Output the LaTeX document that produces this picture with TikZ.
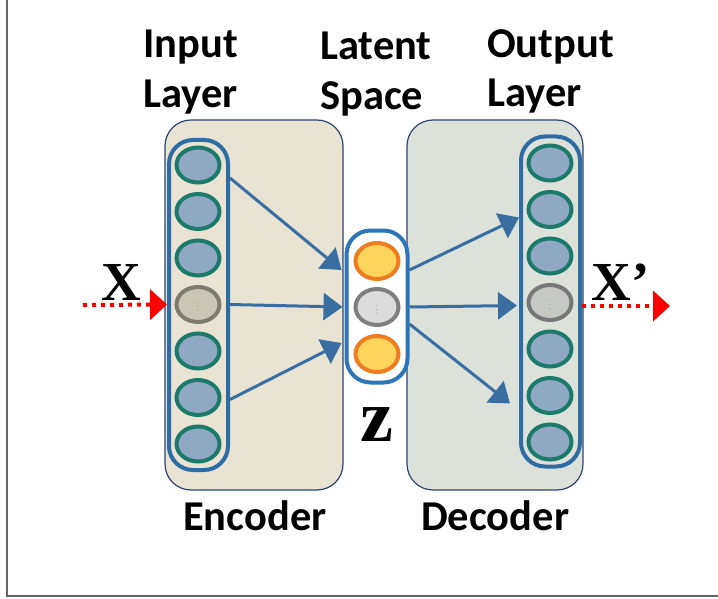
\documentclass[tikz,border=0pt]{standalone}
\usepackage{fontspec}
\usetikzlibrary{arrows.meta,shapes.geometric,calc}
\newfontfamily\calib{Carlito}
\newfontfamily\timesf{Liberation Serif}
\definecolor{encfill}{HTML}{E8E3D3}
\definecolor{decfill}{HTML}{DCE2DA}
\definecolor{boxline}{HTML}{2C4470}
\definecolor{capline}{HTML}{2F6CA3}
\definecolor{latline}{HTML}{2E75B6}
\definecolor{unitfill}{HTML}{8EA9C1}
\definecolor{unitline}{HTML}{1C7A6B}
\definecolor{arrowblue}{HTML}{3A6EA0}
\definecolor{zfill}{HTML}{FFD45C}
\definecolor{zline}{HTML}{EE7D22}
\definecolor{encdotline}{HTML}{7D7A6E}
\definecolor{encdotfill}{HTML}{CBC5B6}
\definecolor{latdotfill}{HTML}{DCDCDC}
\definecolor{decdotline}{HTML}{777777}
\definecolor{decdotfill}{HTML}{C6C8C3}
\definecolor{framegray}{HTML}{666666}

\begin{document}
\begin{tikzpicture}[x=1pt, y=-1pt,
  panel/.style={draw=boxline, line width=1.2pt, rounded corners=26pt, minimum width=#1, minimum height=370pt},
  capsule/.style={draw=capline, line width=4pt, rounded corners=24pt, minimum width=59pt},
  unit/.style={ellipse, draw=unitline, fill=unitfill, line width=4pt, minimum width=43pt, minimum height=35pt, inner sep=0pt},
  dotunit/.style={unit, font=\small, text=black!65},
  latunit/.style={unit, draw=zline, fill=zfill, minimum height=36pt},
  lbl/.style={font=\calib\bfseries\fontsize{42.5}{50}\selectfont, anchor=base west, inner sep=0pt},
  link/.style={draw=arrowblue, line width=3pt, -{Triangle[length=19pt, width=27pt]}},
  signal/.style={draw=red, line width=4pt, dash pattern=on 4pt off 5pt, -{Triangle[length=17pt, width=30pt]}}
]
\useasboundingbox (0,0) rectangle (718,599);
% frame of the figure
\draw[framegray, line width=2pt] (7,0) -- (7,596) -- (718,596);

% Encoder and decoder panels
\node[panel=178pt, fill=encfill] (encoder) at (254,305) {};
\node[panel=176pt, fill=decfill] (decoder) at (495,305) {};

% Layers
\node[capsule, minimum height=330pt] (inlayer) at (198.5,305) {};
\node[capsule, minimum height=330pt] (outlayer) at (550.5,301.5) {};
\node[capsule, draw=latline, fill=white, minimum width=61pt, minimum height=152pt] (zlayer) at (377,306.5) {};

% Input units
\node[unit] (in1) at (198,165) {};
\node[unit] (in2) at (198,211.5) {};
\node[unit] (in3) at (198,258) {};
\node[dotunit, draw=encdotline, fill=encdotfill] (in4) at (198,304.5) {$\vdots$};
\node[unit] (in5) at (198,351) {};
\node[unit] (in6) at (198,397.5) {};
\node[unit] (in7) at (198,444) {};

% Latent units
\node[latunit] (z1) at (377,261) {};
\node[dotunit, draw=gray, fill=latdotfill, minimum height=36pt] (z2) at (377,307) {$\vdots$};
\node[latunit] (z3) at (377,354) {};

% Output units
\node[unit] (out1) at (550,163) {};
\node[unit] (out2) at (550,209.5) {};
\node[unit] (out3) at (550,256) {};
\node[dotunit, draw=decdotline, fill=decdotfill] (out4) at (550,302.5) {$\vdots$};
\node[unit] (out5) at (550,349) {};
\node[unit] (out6) at (550,395.5) {};
\node[unit] (out7) at (550,442) {};

% Encoder connections
\draw[link] ($(inlayer.east |- in1)+(0,13)$) -- ($(zlayer.west |- z1)+(-3,9)$);
\draw[link] (inlayer.east |- in4) -- ($(zlayer.west |- z2)+(-2,0)$);
\draw[link] ($(inlayer.east |- in6)+(0,2)$) -- ($(zlayer.west |- z3)+(-3,-11)$);

% Decoder connections
\draw[link] ($(zlayer.east |- z1)+(0,9)$) -- ($(outlayer.west |- out2)+(0,8)$);
\draw[link] (zlayer.east |- z2) -- ($(outlayer.west |- out4)+(-2,3)$);
\draw[link] ($(zlayer.east |- z3)+(0,-30)$) -- ($(outlayer.west |- out6)+(-9,8)$);

% Input and reconstruction
\coordinate (xin) at (83,305);
\coordinate (xout) at (670,306);
\draw[signal] (xin) -- (inlayer.west |- in4);
\draw[signal] (outlayer.east |- xout) -- (xout);
\node[font=\timesf\bfseries\fontsize{55}{55}\selectfont, inner sep=0pt] (xlab) at (121,282) {X};
\node[font=\timesf\bfseries\fontsize{55}{55}\selectfont, inner sep=0pt] (xplab) at (621,282) {X’};
\node[font=\timesf\bfseries\fontsize{74}{74}\selectfont, inner sep=0pt] (zlab) at (377,425) {z};

% Labels
\node[lbl] (inA) at (143,58) {Input};
\node[lbl] (inB) at (143,108) {Layer};
\node[lbl] (latA) at (320,60) {Latent};
\node[lbl] (latB) at (320,110) {Space};
\node[lbl] (outA) at (487,58) {Output};
\node[lbl] (outB) at (487,107) {Layer};
\node[lbl] (enc) at (183,530) {Encoder};
\node[lbl] (dec) at (421,530) {Decoder};
\end{tikzpicture}
\end{document}
